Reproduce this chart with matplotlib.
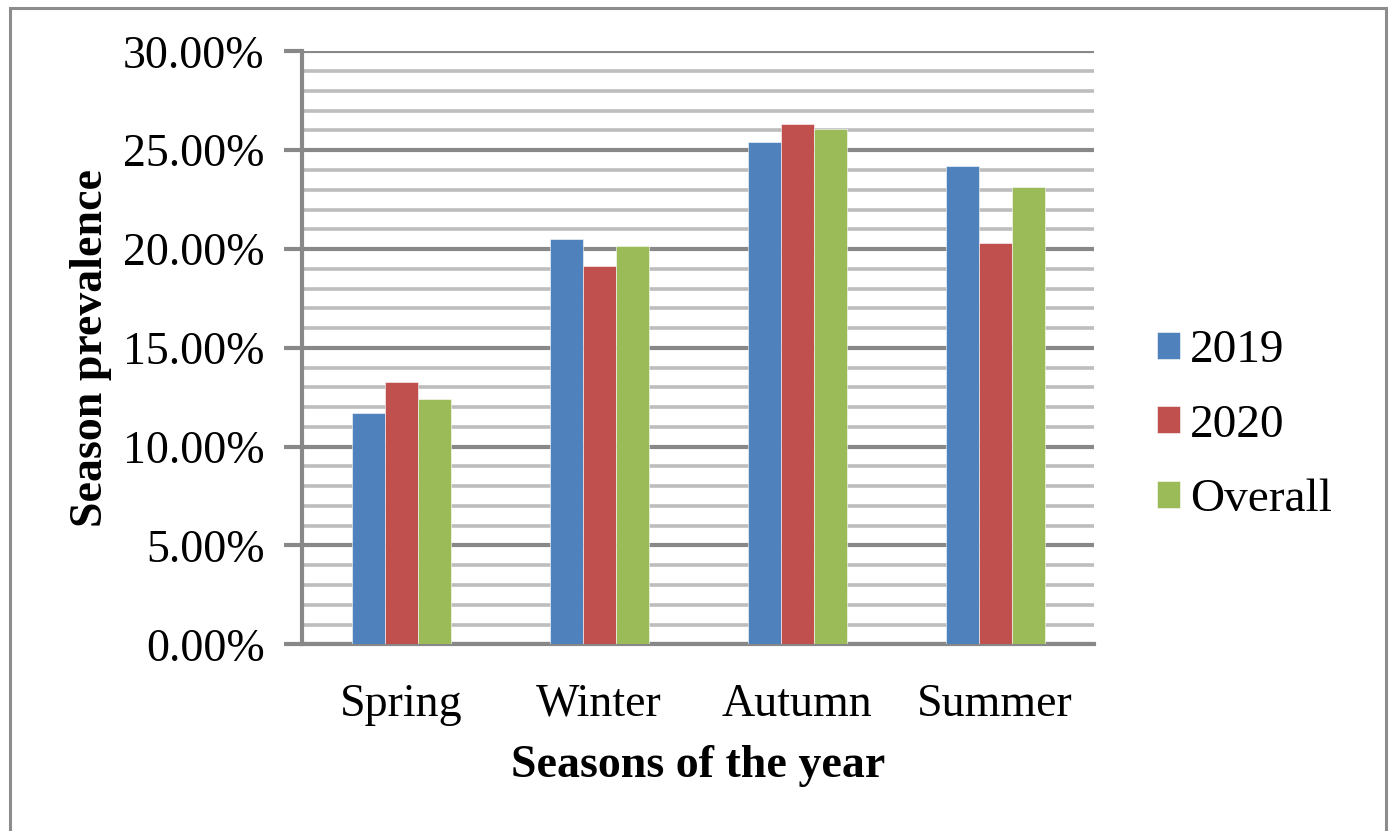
import numpy as np
import matplotlib.pyplot as plt
from matplotlib.patches import Rectangle
from matplotlib.ticker import MultipleLocator, FuncFormatter

# data (percent)
seasons = ['Spring', 'Winter', 'Autumn', 'Summer']
series_names = ['2019', '2020', 'Overall']
vals_2019 = [11.7, 20.5, 25.4, 24.2]
vals_2020 = [13.25, 19.15, 26.35, 20.3]
vals_overall = [12.4, 20.15, 26.1, 23.15]
colors = ['#4F81BD', '#C0504D', '#9BBB59']

plt.rcParams['font.family'] = ['Liberation Serif', 'DejaVu Serif']

fig = plt.figure(figsize=(13.92, 8.31), dpi=100)
ax = fig.add_axes([0.217, 0.2247, 0.569, 0.7134])

# outer chart border
fig.patches.append(Rectangle((0.0072, -0.02), 0.9885, 1.0104, transform=fig.transFigure,
                             fill=False, edgecolor='#8c8c8c', linewidth=2.2))

x = np.arange(len(seasons))
w = 0.1667
for k, (vals, name) in enumerate(zip([vals_2019, vals_2020, vals_overall], series_names)):
    ax.bar(x + (k - 1) * w, vals, width=w, color=colors[k], label=name,
           edgecolor='white', linewidth=0.4, zorder=3)

ax.set_xlim(-0.5, 3.5)
ax.set_ylim(0, 30)
ax.yaxis.set_major_locator(MultipleLocator(5))
ax.yaxis.set_minor_locator(MultipleLocator(1))
ax.yaxis.set_major_formatter(FuncFormatter(lambda v, p: '%.2f%%' % v))
ax.grid(which='minor', axis='y', color='#bdbdbd', linewidth=2.6, zorder=0)
ax.grid(which='major', axis='y', color='#888888', linewidth=3.0, zorder=1)

ax.set_xticks(x)
ax.set_xticklabels(seasons)
ax.tick_params(axis='x', length=0, pad=28, labelsize=33)
ax.tick_params(axis='y', which='major', length=13, width=3, color='#888888', labelsize=33, pad=14)
ax.tick_params(axis='y', which='minor', length=0)

for s in ['top', 'right']:
    ax.spines[s].set_visible(False)
ax.spines['left'].set_color('#888888')
ax.spines['left'].set_linewidth(3)
ax.spines['bottom'].set_color('#888888')
ax.spines['bottom'].set_linewidth(3)

ax.set_xlabel('Seasons of the year', fontsize=33, fontweight='bold', labelpad=14)
ax.set_ylabel('Season prevalence', fontsize=33, fontweight='bold', labelpad=8)

ax.legend(loc='center left', bbox_to_anchor=(0.831, 0.488), bbox_transform=fig.transFigure,
          frameon=False, fontsize=34, borderpad=0, borderaxespad=0,
          handlelength=0.5, handleheight=0.5, handletextpad=0.2, labelspacing=0.68)

fig.savefig('out.png', dpi=100)
